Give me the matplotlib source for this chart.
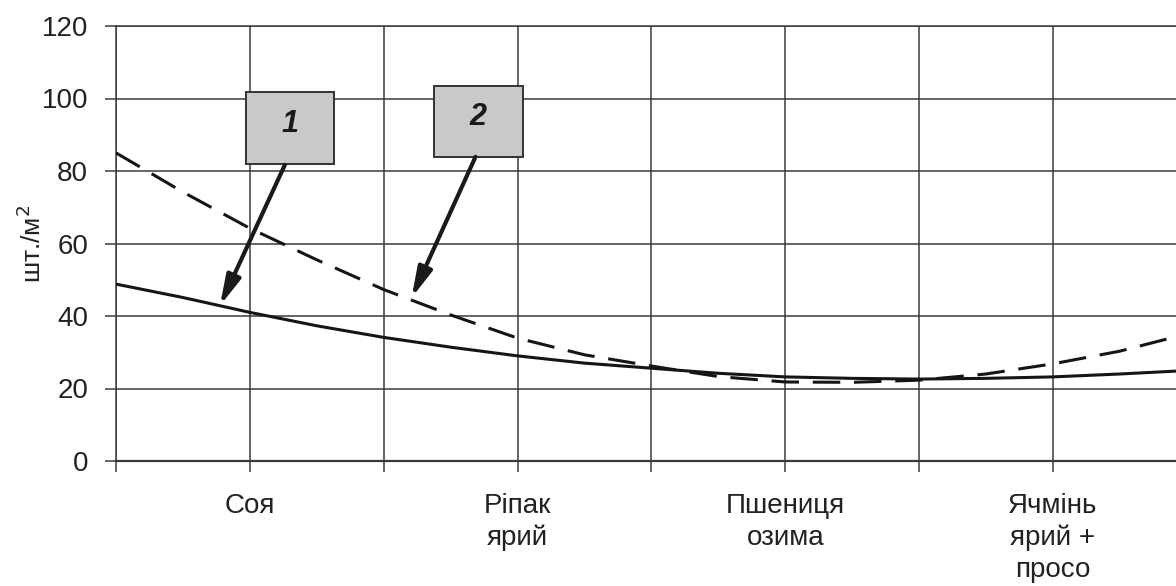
import matplotlib
matplotlib.use("Agg")
import matplotlib.pyplot as plt
from matplotlib.patches import Rectangle

plt.rcParams['font.family'] = ['Liberation Sans', 'DejaVu Sans']

# ---- data ----
categories = ['Соя', 'Ріпак\nярий', 'Пшениця\nозима', 'Ячмінь\nярий +\nпросо']
cat_pos = [0.5, 1.5, 2.5, 3.5]
x_pts = [0, 0.25, 0.5, 0.75, 1.0, 1.25, 1.5, 1.75, 2.0, 2.25, 2.5, 2.75,
         3.0, 3.25, 3.5, 3.75, 3.96]
series1 = [48.8, 45.1, 41.0, 37.3, 34.1, 31.4, 29.0, 27.0, 25.6, 24.2, 23.2,
           22.8, 22.6, 22.8, 23.2, 24.0, 24.8]
series2 = [85.0, 74.2, 64.2, 55.5, 47.3, 40.3, 33.9, 29.3, 26.2, 23.3, 21.8,
           21.7, 22.3, 24.0, 26.8, 30.3, 34.3]
y_ticks = [0, 20, 40, 60, 80, 100, 120]
labels = ['1', '2']

# ---- figure ----
fig = plt.figure(figsize=(11.76, 5.86), dpi=100)
ax = fig.add_axes([116/1176, 1-461/586, 1-116/1176, (461-26)/586])

grid_c = '#3a3a3a'
line_c = '#151515'

ax.plot(x_pts, series1, color=line_c, lw=2.2, solid_capstyle='butt', zorder=4)
ax.plot(x_pts, series2, color=line_c, lw=2.2, dashes=(9, 4.5), zorder=4)

ax.set_xlim(0, 3.96)
ax.set_ylim(0, 120)
ax.set_yticks(y_ticks)
ax.set_xticks(cat_pos)
ax.set_xticklabels(categories, fontsize=20, color='#222222', linespacing=1.28, va='top')
ax.set_xticks([0, 1, 2, 3], minor=True)

ax.grid(True, which='both', color=grid_c, lw=1.1)
ax.set_axisbelow(True)
ax.spines['right'].set_visible(False)
for s in ['left', 'bottom', 'top']:
    ax.spines[s].set_color(grid_c)
    ax.spines[s].set_linewidth(1.1)
ax.spines['bottom'].set_linewidth(1.6)

ax.tick_params(axis='y', which='both', length=8, width=1.1, color=grid_c,
               labelsize=20, labelcolor='#222222', pad=12)
ax.tick_params(axis='x', which='both', length=8, width=1.1, color=grid_c, pad=15)

ax.set_ylabel('шт./м$^2$', fontsize=19, color='#222222')
ax.yaxis.set_label_coords(-0.066, 0.5)

# ---- callout boxes ----
boxes = [((0.485, 81.9), 0.328, 19.9), ((1.187, 83.9), 0.332, 19.5)]
arrows = [((0.631, 81.7), (0.388, 42.8)), ((1.343, 83.9), (1.104, 45.0))]
for (xy, w, h), lab, (start, end) in zip(boxes, labels, arrows):
    ax.add_patch(Rectangle(xy, w, h, facecolor='#c8c9cb', edgecolor='#333333',
                           lw=1.4, zorder=5))
    ax.text(xy[0] + w/2, xy[1] + h/2 + 1.2, lab, ha='center', va='center',
            fontsize=22, fontweight='bold', fontstyle='italic', color='#1a1a1a', zorder=6)
    ax.annotate('', xy=end, xytext=start, xycoords='data', textcoords='data',
                arrowprops=dict(arrowstyle='-|>,head_length=0.9,head_width=0.22',
                                mutation_scale=20, lw=3, color='#1a1a1a',
                                shrinkA=0, shrinkB=0), zorder=6)

fig.savefig('out.png', dpi=100)
